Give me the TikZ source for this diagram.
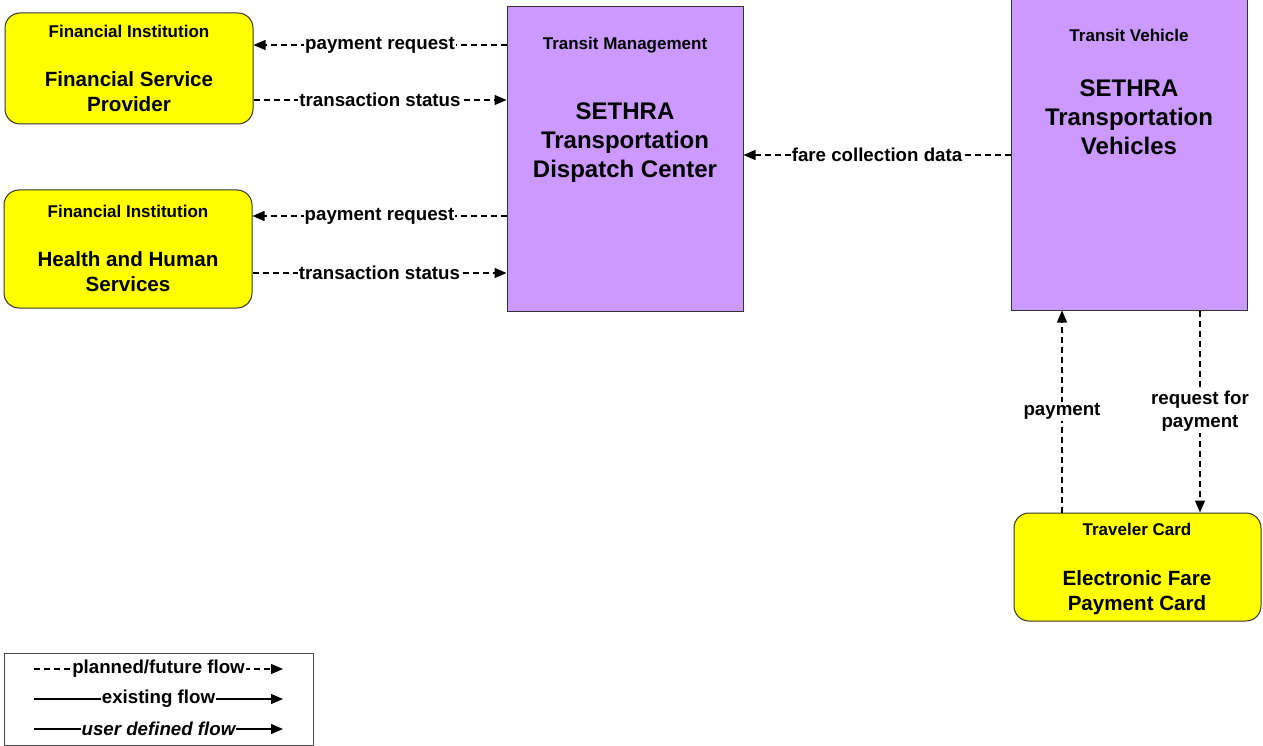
\documentclass[tikz,border=0pt]{standalone}
\usepackage{fontspec}
\setmainfont{Liberation Sans}
\usetikzlibrary{arrows.meta}

\definecolor{termyellow}{HTML}{FFFF00}
\definecolor{sysviolet}{HTML}{CC99FF}

\tikzset{
  term/.style={draw=black!80, line width=1pt, fill=termyellow, rounded corners=15pt},
  subsys/.style={draw=black!80, line width=1pt, fill=sysviolet},
  head/.style={font=\fontsize{17}{20}\selectfont\bfseries, align=center},
  title/.style={font=\fontsize{20.6}{25}\selectfont\bfseries, align=center},
  bigtitle/.style={font=\fontsize{24}{29}\selectfont\bfseries, align=center},
  lbl/.style={font=\fontsize{18.7}{23}\selectfont\bfseries, align=center, fill=white, inner sep=1pt},
  flow/.style={line width=1.2pt, dash pattern=on 6pt off 4pt, -{Triangle[length=12pt,width=10pt]}},
  solidflow/.style={line width=1.2pt, -{Triangle[length=12pt,width=10pt]}}
}

\begin{document}
\begin{tikzpicture}[x=1pt, y=-1pt]
      \useasboundingbox (0,0) rectangle (1263,746);
      % terminators and subsystems
      \node (fsp) [term, minimum width=248pt, minimum height=111pt] at (129,68.5) {};
      \node (hhs) [term, minimum width=248pt, minimum height=118pt] at (128,249) {};
      \node (tm) [subsys, minimum width=236pt, minimum height=304pt] at (625,159) {};
      \node (tv) [subsys, minimum width=236pt, minimum height=315pt] at (1129,152.5) {};
      \node (efpc) [term, minimum width=247pt, minimum height=108pt] at (1137.5,567) {};
      \node (fsphead) [head] at (129,31) {Financial Institution};
      \node (fsptitle) [title] at (129,91.5) {Financial Service\\Provider};
      \node (hhshead) [head] at (128,211) {Financial Institution};
      \node (hhstitle) [title] at (128,271.5) {Health and Human\\Services};
      \node (tmhead) [head] at (625,45) {Transit Management};
      \node (tmtitle) [bigtitle] at (625,143) {SETHRA\\Transportation\\Dispatch Center};
      \node (tvhead) [head] at (1129,35) {Transit Vehicle};
      \node (tvtitle) [bigtitle] at (1129,117.5) {SETHRA\\Transportation\\Vehicles};
      \node (efpchead) [head] at (1137,529) {Traveler Card};
      \node (efpctitle) [title] at (1137,592.5) {Electronic Fare\\Payment Card};
      % flows
      \draw[flow] (tm.west |- 0,45) -- node[lbl] {payment request} (fsp.east |- 0,45);
      \draw[flow] (fsp.east |- 0,100) -- node[lbl] {transaction status} (tm.west |- 0,100);
      \draw[flow] (tm.west |- 0,216) -- node[lbl] {payment request} (hhs.east |- 0,216);
      \draw[flow] (hhs.east |- 0,273) -- node[lbl] {transaction status} (tm.west |- 0,273);
      \draw[flow] (tv.west |- 0,155) -- node[lbl] {fare collection data} (tm.east |- 0,155);
      \draw[flow] (efpc.north -| 1062,0) -- node[lbl] {payment} (tv.south -| 1062,0);
      \draw[flow] (tv.south -| 1200,0) -- node[lbl] {request for\\payment} (efpc.north -| 1200,0);
      % legend
      \node (legend) [draw=black!70, line width=0.8pt, minimum width=309pt, minimum height=92pt] at (158.5,699) {};
      \coordinate (l1a) at (34,669);
      \coordinate (l1b) at (283,669);
      \coordinate (l2a) at (34,699);
      \coordinate (l2b) at (283,699);
      \coordinate (l3a) at (34,729);
      \coordinate (l3b) at (283,729);
      \draw[flow] (l1a) -- node[lbl] {planned/future flow} (l1b);
      \draw[solidflow] (l2a) -- node[lbl] {existing flow} (l2b);
      \draw[solidflow] (l3a) -- node[lbl, font=\fontsize{18.7}{23}\selectfont\bfseries\itshape] {user defined flow} (l3b);
    \end{tikzpicture}
\end{document}
